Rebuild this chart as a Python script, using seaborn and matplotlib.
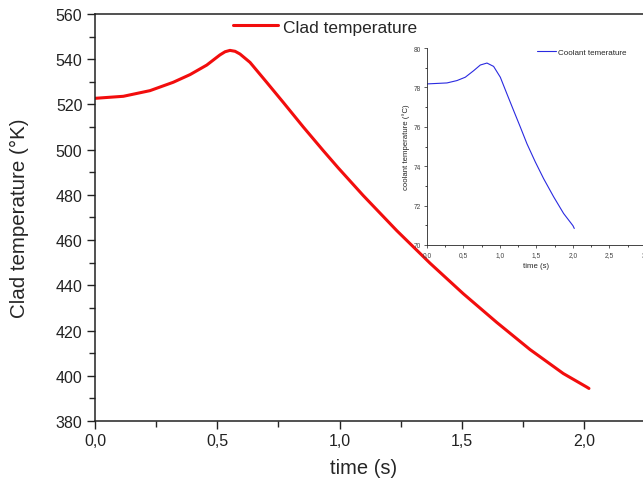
import matplotlib
matplotlib.use("Agg")
import matplotlib.pyplot as plt
import matplotlib.ticker as mticker
import pandas as pd
import seaborn as sns

# main curve: clad temperature (K) vs time (s)
clad_time = [0.0, 0.116, 0.225, 0.32, 0.389, 0.457, 0.511, 0.532, 0.552,
             0.573, 0.593, 0.634, 0.702, 0.77, 0.852, 0.934, 0.995, 1.097,
             1.234, 1.37, 1.506, 1.643, 1.779, 1.915, 2.011, 2.02]
clad_temp = [522.7, 523.6, 526.1, 529.8, 533.2, 537.4, 541.9, 543.3, 543.9,
             543.5, 542.3, 538.6, 529.8, 520.9, 510.0, 499.5, 491.9, 479.7,
             464.2, 449.8, 436.3, 423.6, 411.6, 401.0, 395.0, 394.4]

# inset curve: coolant temperature (C) vs time (s)
cool_time = [0.0, 0.274, 0.411, 0.525, 0.639, 0.731, 0.822, 0.913, 1.005,
             1.096, 1.187, 1.279, 1.37, 1.484, 1.598, 1.735, 1.872, 2.0, 2.018]
cool_temp = [78.18, 78.23, 78.35, 78.52, 78.85, 79.14, 79.24, 79.07, 78.52,
             77.67, 76.83, 75.99, 75.14, 74.22, 73.37, 72.45, 71.6, 70.98,
             70.84]

main_xticks = [0.0, 0.5, 1.0, 1.5, 2.0]
main_yticks = [380, 400, 420, 440, 460, 480, 500, 520, 540, 560]
inset_xticks = [0.0, 0.5, 1.0, 1.5, 2.0, 2.5, 3.0]
inset_yticks = [70, 72, 74, 76, 78, 80]

sns.set_style("ticks")
plt.rcParams["font.family"] = ["Liberation Sans", "DejaVu Sans"]

comma = mticker.FuncFormatter(lambda v, p: f"{v:.1f}".replace(".", ","))

fig = plt.figure(figsize=(6.43, 4.85), dpi=100)
ax = fig.add_axes([0.1477, 0.1299, 0.8523, 0.8392])

clad = pd.DataFrame({"time": clad_time, "temp": clad_temp})
sns.lineplot(data=clad, x="time", y="temp", ax=ax, color="#f20d0d",
             linewidth=2.2, label="Clad temperature")
ax.set_xlim(0, 2.241)
ax.set_ylim(380, 560)
ax.set_xticks(main_xticks)
ax.set_yticks(main_yticks)
ax.xaxis.set_major_formatter(comma)
ax.xaxis.set_minor_locator(mticker.MultipleLocator(0.25))
ax.yaxis.set_minor_locator(mticker.MultipleLocator(10))
ax.tick_params(which="major", length=6, width=1, labelsize=11.5,
               colors="#222222", pad=3)
ax.tick_params(which="minor", length=4, width=1)
ax.spines["right"].set_visible(False)
for s in ["left", "bottom", "top"]:
    ax.spines[s].set_linewidth(1.1)
    ax.spines[s].set_color("#222222")
ax.set_xlabel("time (s)", fontsize=14.5)
ax.set_ylabel("Clad temperature (°K)", fontsize=14.8)
ax.xaxis.set_label_coords(0.49, -0.09)
ax.yaxis.set_label_coords(-0.12, 0.5)
ax.legend(loc="upper left", bbox_to_anchor=(0.3624, 0.958),
          bbox_transform=fig.transFigure, frameon=False, fontsize=12.5,
          handlelength=2.6, handletextpad=0.3, borderaxespad=0, borderpad=0)

ins = fig.add_axes([0.664, 0.4928, 0.3406, 0.406])
cool = pd.DataFrame({"time": cool_time, "temp": cool_temp})
sns.lineplot(data=cool, x="time", y="temp", ax=ins, color="#2a2ae0",
             linewidth=0.8, label="Coolant temerature")
ins.set_xlim(0, 3.0)
ins.set_ylim(70, 80)
ins.set_xticks(inset_xticks)
ins.set_yticks(inset_yticks)
ins.xaxis.set_major_formatter(comma)
ins.xaxis.set_minor_locator(mticker.MultipleLocator(0.25))
ins.yaxis.set_minor_locator(mticker.MultipleLocator(1))
ins.tick_params(which="major", length=2.5, width=0.6, labelsize=4.8,
                pad=1.5, colors="#444444")
ins.tick_params(which="minor", length=1.5, width=0.6)
ins.spines["top"].set_visible(False)
ins.spines["right"].set_visible(False)
for s in ["left", "bottom"]:
    ins.spines[s].set_linewidth(0.6)
ins.set_xlabel("time (s)", fontsize=5.6, labelpad=3)
ins.set_ylabel("coolant temperature (°C)", fontsize=5.6, labelpad=3)
ins.patch.set_alpha(0)
ins.legend(loc="upper left", bbox_to_anchor=(0.502, 1.0), frameon=False,
           fontsize=5.8, handlelength=2.4, handletextpad=0.25,
           borderaxespad=0, borderpad=0)

fig.savefig("out.png", dpi=100)
